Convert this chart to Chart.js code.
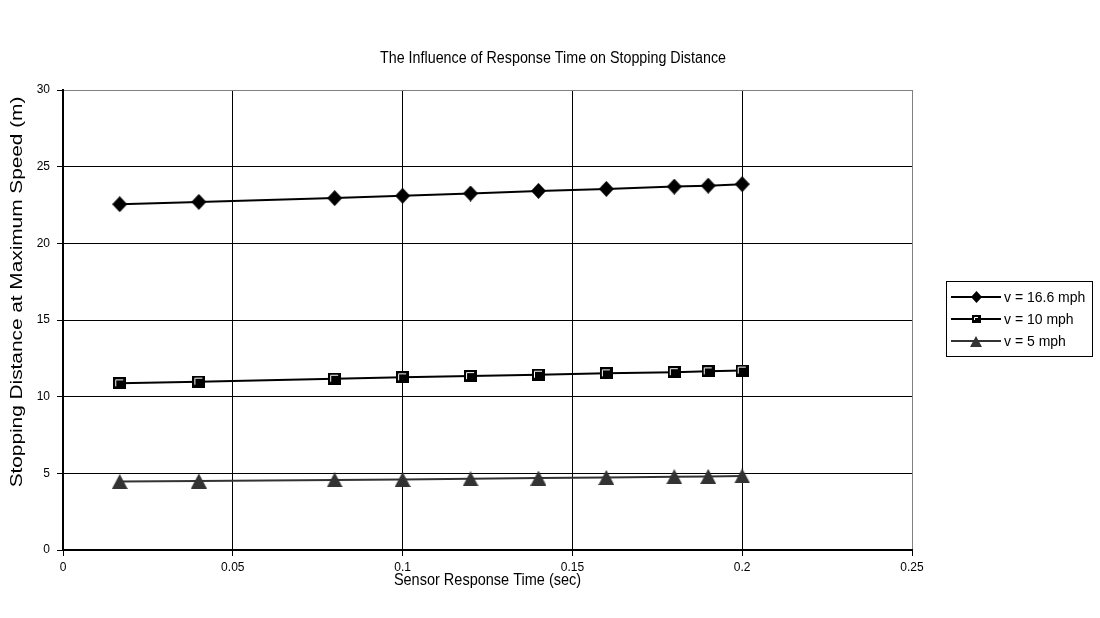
<!DOCTYPE html>
<html>
<head>
<meta charset="utf-8">
<title>The Influence of Response Time on Stopping Distance</title>
<script src="https://cdn.jsdelivr.net/npm/chart.js@4.4.1/dist/chart.umd.min.js"></script>
<style>
  html, body { margin: 0; padding: 0; background: #fff; }
  #wrap { width: 1100px; height: 618px; }
</style>
</head>
<body>
<div id="wrap"><canvas id="chart" width="1100" height="618"></canvas></div>
<script>
// response time (s) against stopping distance (m) for three speeds
const responseTimes = [0.0167, 0.04, 0.08, 0.1, 0.12, 0.14, 0.16, 0.18, 0.19, 0.2];
const dist16_6 = [22.55, 22.7, 22.95, 23.1, 23.25, 23.42, 23.55, 23.7, 23.76, 23.86];
const dist10 = [10.87, 10.98, 11.17, 11.26, 11.34, 11.43, 11.52, 11.6, 11.65, 11.7];
const dist5 = [4.46, 4.5, 4.57, 4.6, 4.64, 4.69, 4.73, 4.78, 4.8, 4.83];
const seriesLabels = ['v = 16.6 mph', 'v = 10 mph', 'v = 5 mph'];
const xTicks = [0, 0.05, 0.1, 0.15, 0.2, 0.25];
const yTicks = [0, 5, 10, 15, 20, 25, 30];

const chartTitle = 'The Influence of Response Time on Stopping Distance';
const xTitle = 'Sensor Response Time (sec)';
const yTitle = 'Stopping Distance at Maximum Speed (m)';
const FONT = '"Liberation Sans", Arial, sans-serif';

// marker bitmaps, old spreadsheet style
function makeDiamond(w, h, color) {
  const c = document.createElement('canvas');
  c.width = w; c.height = h;
  const g = c.getContext('2d');
  g.fillStyle = color;
  g.beginPath();
  g.moveTo(w / 2, 0); g.lineTo(w, h / 2); g.lineTo(w / 2, h); g.lineTo(0, h / 2);
  g.closePath();
  g.fill();
  return c;
}

function makeSquare(w, h) {
  const c = document.createElement('canvas');
  c.width = w; c.height = h;
  const g = c.getContext('2d');
  g.fillStyle = '#000';
  g.fillRect(0, 0, w, h);
  g.strokeStyle = '#fff';
  g.lineWidth = 1;
  g.beginPath();
  g.moveTo(2.5, h - 3); g.lineTo(2.5, 2.5); g.lineTo(w - 3, 2.5);
  g.stroke();
  return c;
}

function makeTriangle(w, h, color) {
  const c = document.createElement('canvas');
  c.width = w; c.height = h;
  const g = c.getContext('2d');
  g.fillStyle = color;
  g.beginPath();
  g.moveTo(w / 2, 0); g.lineTo(w, h); g.lineTo(0, h);
  g.closePath();
  g.fill();
  return c;
}

const markers = [makeDiamond(15, 16, '#000'), makeSquare(13, 12), makeTriangle(16, 15, '#333')];
const legendMarkers = [makeDiamond(11, 12, '#000'), makeSquare(9, 8), makeTriangle(12, 11, '#333')];
const lineColors = ['#000', '#000', '#333'];

function series(ys) {
  return responseTimes.map((t, i) => ({ x: t, y: ys[i] }));
}

const datasets = [dist16_6, dist10, dist5].map((ys, i) => ({
  label: seriesLabels[i],
  data: series(ys),
  showLine: true,
  borderColor: lineColors[i],
  backgroundColor: lineColors[i],
  borderWidth: 2,
  tension: 0,
  pointStyle: markers[i],
  pointRadius: 7,
  pointHoverRadius: 7
}));

// draws text a little taller than the font, like the old export
function tallText(ctx, text, x, y, sy) {
  ctx.save();
  ctx.translate(x, y);
  ctx.scale(1, sy);
  ctx.fillText(text, 0, 0);
  ctx.restore();
}

// titles and boxed legend
const textLayer = {
  id: 'textLayer',
  afterDraw(chart) {
    const ctx = chart.ctx;
    const a = chart.chartArea;
    ctx.save();
    ctx.fillStyle = '#000';
    ctx.textAlign = 'center';
    ctx.textBaseline = 'middle';
    ctx.font = '14.3px ' + FONT;
    tallText(ctx, chartTitle, 553, 58, 1.15);
    ctx.font = '14.5px ' + FONT;
    tallText(ctx, xTitle, (a.left + a.right) / 2, 580, 1.15);

    ctx.save();
    ctx.font = '16px ' + FONT;
    ctx.translate(18, 292);
    ctx.rotate(-Math.PI / 2);
    ctx.scale(1.3, 1);
    ctx.fillText(yTitle, 0, 0);
    ctx.restore();

    // legend
    ctx.strokeStyle = '#000';
    ctx.lineWidth = 1;
    ctx.strokeRect(946.5, 281.5, 146, 75);
    ctx.font = '14px ' + FONT;
    ctx.textAlign = 'left';
    chart.data.datasets.forEach((ds, i) => {
      const y = 297 + i * 22;
      ctx.strokeStyle = ds.borderColor;
      ctx.lineWidth = 2;
      ctx.beginPath();
      ctx.moveTo(951, y);
      ctx.lineTo(1001, y);
      ctx.stroke();
      const m = legendMarkers[i];
      ctx.drawImage(m, Math.round(976 - m.width / 2), Math.round(y - m.height / 2));
      ctx.fillStyle = '#000';
      ctx.fillText(ds.label, 1004, y + 1);
    });
    ctx.restore();
  }
};

new Chart(document.getElementById('chart'), {
  type: 'scatter',
  data: { datasets },
  plugins: [textLayer],
  options: {
    responsive: false,
    animation: false,
    events: [],
    layout: { padding: { left: 0, right: 188, top: 90, bottom: 0 } },
    plugins: {
      legend: { display: false },
      title: { display: false },
      tooltip: { enabled: false }
    },
    scales: {
      x: {
        type: 'linear',
        min: 0,
        max: 0.25,
        afterBuildTicks: s => { s.ticks = xTicks.map(v => ({ value: v })); },
        afterFit: s => { s.height = 68; },
        ticks: {
          color: '#000',
          font: { family: FONT, size: 12 },
          padding: 4,
          maxRotation: 0,
          callback: v => String(v)
        },
        grid: {
          color: c => (c.tick && c.tick.value === 0.25 ? '#808080' : '#000'),
          tickColor: '#000',
          lineWidth: 1,
          tickLength: 6
        },
        border: { display: true, color: '#000', width: 2 }
      },
      y: {
        min: 0,
        max: 30,
        afterBuildTicks: s => { s.ticks = yTicks.map(v => ({ value: v })); },
        afterFit: s => { s.width = 63; },
        ticks: {
          color: '#000',
          font: { family: FONT, size: 12 },
          padding: 7,
          callback: v => String(v)
        },
        grid: {
          color: c => (c.tick && c.tick.value === 30 ? '#808080' : '#000'),
          tickColor: '#000',
          lineWidth: 1,
          tickLength: 6
        },
        border: { display: true, color: '#000', width: 2 }
      }
    }
  }
});
</script>
</body>
</html>
